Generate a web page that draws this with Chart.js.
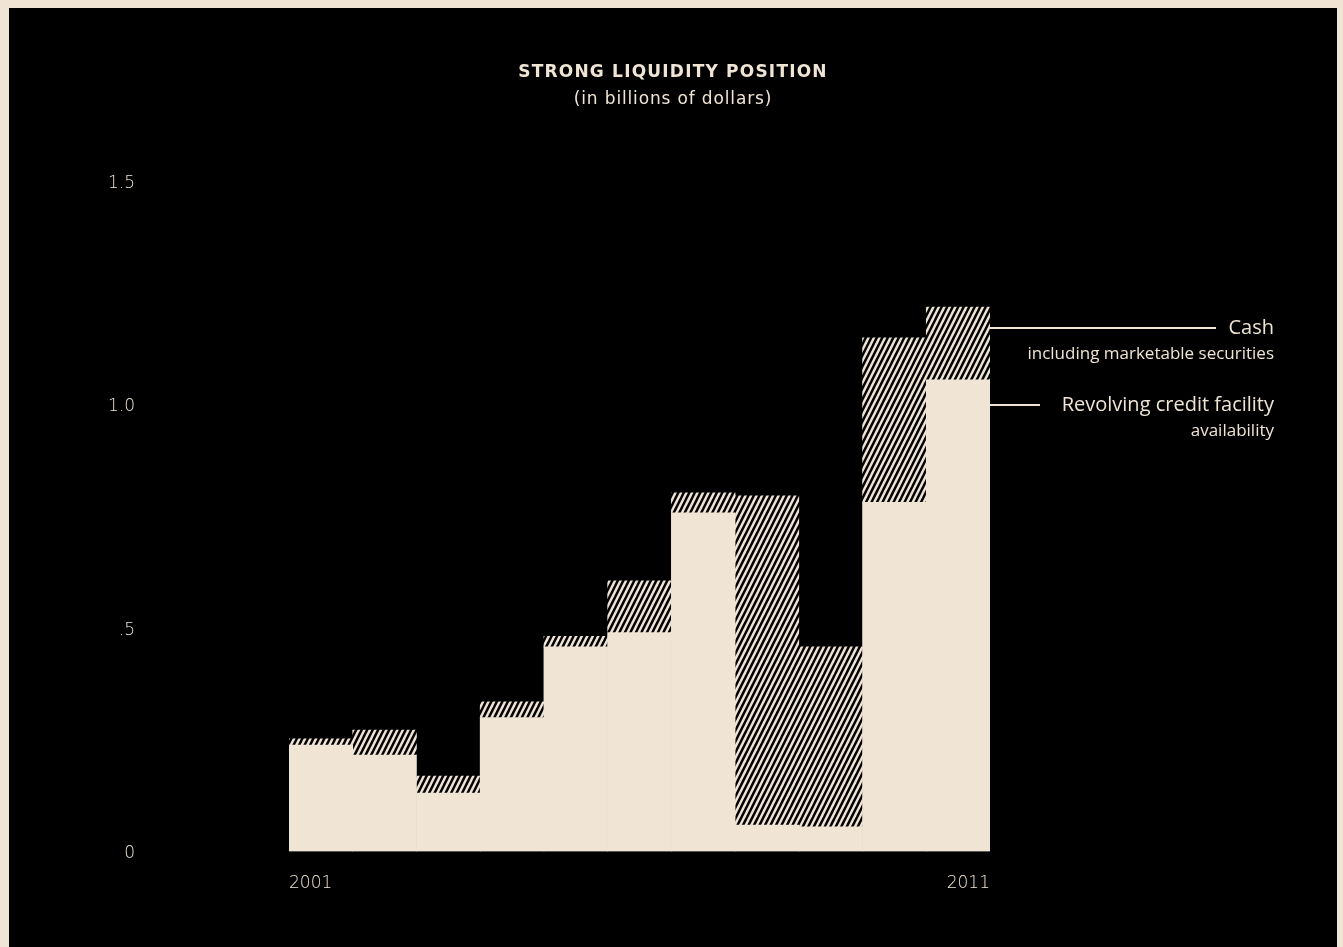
<!DOCTYPE html>
<html>
<head>
<meta charset="utf-8">
<title>Strong Liquidity Position</title>
<script src="https://cdn.jsdelivr.net/npm/chart.js@4"></script>
<style>
  html, body { margin: 0; padding: 0; background: #f0e5d5; }
  #wrap { position: absolute; left: 9px; top: 8px; width: 1328px; height: 939px; background: #000; }
</style>
</head>
<body>
<div id="wrap"><canvas id="liquidityChart" width="1328" height="939"></canvas></div>
<script>
const years = [2001, 2002, 2003, 2004, 2005, 2006, 2007, 2008, 2009, 2010, 2011];
// revolving credit facility availability, billions
const revolvingCredit = [0.238, 0.216, 0.131, 0.300, 0.458, 0.490, 0.758, 0.059, 0.055, 0.782, 1.056];
// cash including marketable securities, billions
const cash = [0.014, 0.056, 0.038, 0.035, 0.024, 0.116, 0.045, 0.737, 0.403, 0.368, 0.163];
const yTickValues = [0, 0.5, 1.0, 1.5];
const yTickLabels = ["0", ".5", "1.0", "1.5"];

const CREAM = "#f0e5d5";
const TICK_FONT = { family: "DejaVu Sans", size: 17, weight: 200 };

document.addEventListener("DOMContentLoaded", function () {
  const ctx = document.getElementById("liquidityChart").getContext("2d");

  // "/" stripes for the cash segment: 5.5px repeat, rising 2px per 1px
  function makeHatch() {
    const tile = document.createElement("canvas");
    tile.width = 11;
    tile.height = 22;
    const t = tile.getContext("2d");
    t.fillStyle = "#000";
    t.fillRect(0, 0, 11, 22);
    t.fillStyle = CREAM;
    const w = 2.7;
    for (let x0 = -22; x0 <= 11; x0 += 5.5) {
      t.beginPath();
      t.moveTo(x0, 22);
      t.lineTo(x0 + w, 22);
      t.lineTo(x0 + w + 11, 0);
      t.lineTo(x0 + 11, 0);
      t.closePath();
      t.fill();
    }
    return ctx.createPattern(tile, "repeat");
  }

  // heading, plus leader lines and labels to the right of the last bar
  const annotations = {
    id: "annotations",
    afterDraw(chart) {
      const { ctx, chartArea, scales, width } = chart;
      ctx.save();
      ctx.fillStyle = CREAM;
      ctx.strokeStyle = CREAM;
      ctx.textBaseline = "middle";

      ctx.textAlign = "center";
      ctx.font = 'bold 17px "DejaVu Sans"';
      ctx.letterSpacing = "1.2px";
      ctx.fillText("STRONG LIQUIDITY POSITION", width / 2, 65);
      ctx.font = '17px "DejaVu Sans"';
      ctx.letterSpacing = "0.85px";
      ctx.fillText("(in billions of dollars)", width / 2, 92);
      ctx.letterSpacing = "0px";

      const x0 = chartArea.right;
      const textRight = x0 + 284;
      const notes = [
        { at: 1.172, lineEnd: x0 + 226, title: "Cash", sub: "including marketable securities" },
        { at: 1.0, lineEnd: x0 + 50, title: "Revolving credit facility", sub: "availability" },
      ];
      ctx.lineWidth = 2;
      ctx.textAlign = "right";
      notes.forEach(function (n) {
        const y = Math.round(scales.y.getPixelForValue(n.at));
        ctx.beginPath();
        ctx.moveTo(x0, y);
        ctx.lineTo(n.lineEnd, y);
        ctx.stroke();
        ctx.font = '20px "Open Sans"';
        ctx.fillText(n.title, textRight, y);
        ctx.font = '17px "Open Sans"';
        ctx.fillText(n.sub, textRight, y + 26);
      });
      ctx.restore();
    },
  };

  new Chart(ctx, {
    type: "bar",
    data: {
      labels: years,
      datasets: [
        {
          label: "Revolving credit facility",
          data: revolvingCredit,
          backgroundColor: CREAM,
          borderWidth: 0,
          barPercentage: 1,
          categoryPercentage: 1,
        },
        {
          label: "Cash",
          data: cash,
          backgroundColor: makeHatch(),
          borderWidth: 0,
          barPercentage: 1,
          categoryPercentage: 1,
        },
      ],
    },
    options: {
      responsive: false,
      animation: false,
      devicePixelRatio: 1,
      layout: {
        padding: { left: 0, right: 347, top: 173.5, bottom: 55.5 },
      },
      scales: {
        x: {
          type: "linear",
          stacked: true,
          offset: false,
          min: years[0] - 0.5,
          max: years[years.length - 1] + 0.5,
          afterBuildTicks: function (scale) {
            scale.ticks = [{ value: scale.min }, { value: scale.max }];
          },
          grid: { display: false, drawTicks: true, tickLength: 22 },
          border: { display: false },
          ticks: {
            align: "inner",
            padding: 0,
            color: CREAM,
            font: TICK_FONT,
            callback: function (value, index) {
              return index === 0 ? String(years[0]) : String(years[years.length - 1]);
            },
          },
          afterFit: function (scale) {
            scale.height = 40;
          },
        },
        y: {
          stacked: true,
          min: 0,
          max: 1.5,
          afterBuildTicks: function (scale) {
            scale.ticks = yTickValues.map(function (v) { return { value: v }; });
          },
          grid: { display: false, drawTicks: true, tickLength: 150 },
          border: { display: false },
          ticks: {
            padding: 4,
            color: CREAM,
            font: TICK_FONT,
            labelOffset: 2,
            callback: function (value, index) {
              return yTickLabels[index];
            },
          },
          afterFit: function (scale) {
            scale.width = 280;
          },
        },
      },
      plugins: {
        legend: { display: false },
        tooltip: { enabled: false },
      },
    },
    plugins: [annotations],
  });
});
</script>
</body>
</html>
